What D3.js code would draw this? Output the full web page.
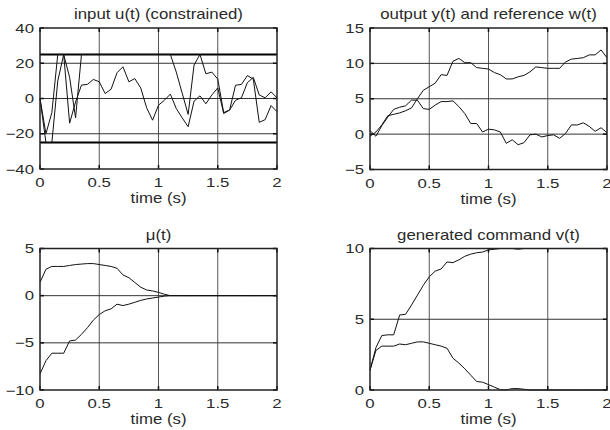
<!DOCTYPE html>
<html>
<head>
<meta charset="utf-8">
<script src="https://cdn.jsdelivr.net/npm/d3@7"></script>
<style>
  body { margin: 0; background: #fff; }
  svg { display: block; }
  text { font-family: "Liberation Sans", Arial, Helvetica, sans-serif; fill: #2a2a2a; }
</style>
</head>
<body>
<div id="chart"></div>
<script>
// sample times (s)
const time = [0, 0.05, 0.1, 0.15, 0.2, 0.25, 0.3, 0.35, 0.4, 0.45, 0.5, 0.55, 0.6, 0.65, 0.7, 0.75, 0.8, 0.85, 0.9, 0.95,
  1, 1.05, 1.1, 1.15, 1.2, 1.25, 1.3, 1.35, 1.4, 1.45, 1.5, 1.55, 1.6, 1.65, 1.7, 1.75, 1.8, 1.85, 1.9, 1.95, 2];

// input u(t), two runs
const uSat = [0, -20, -8, 25, 25, 12, -11, 25, 25, 25, 25, 25, 25, 25, 25, 25, 25, 25, 25, 25,
  25, 25, 25, 15, 3, -9, 19, 25, 14, 15, 11, -8, -6.5, 7.5, 8, 13, 11, -13.5, -12, -4, -7.5];
const uFree = [0, -25, -25, 10, 25, -14, -2, 7.6, 8, 10.8, 9.5, 2.8, 5.3, 14.6, 18, 9.5, 11.3, 6, -5.3, -12.3,
  -3.8, -1, 2.5, -5.7, -11, -16, -1.5, 1.5, -3, 2, 6, -8.5, -6.6, -1, 0.4, 9, 12, 2, 0.4, 3.8, 0.4];
const uLimits = [25, -25];

// output y(t) and reference w(t)
const yOut = [-0.3, 0.3, 1.3, 2.6, 2.8, 3.0, 3.3, 3.7, 5.0, 6.2, 6.7, 7.2, 8.4, 8.3, 10.3, 10.7, 10.1, 10.1, 9.4, 9.3,
  9.2, 8.7, 8.4, 7.8, 7.8, 8.1, 8.3, 8.8, 9.5, 9.4, 9.3, 9.3, 9.3, 10.2, 10.6, 10.7, 10.8, 11.2, 11.2, 11.9, 10.8];
const wRef = [0.5, -0.3, 1.2, 2.4, 3.5, 3.8, 4.0, 4.8, 4.8, 3.6, 3.5, 4.1, 4.6, 4.6, 4.7, 3.9, 2.9, 1.5, 1.5, 0.3,
  0.7, 0.6, 0.3, -1.3, -0.8, -1.5, -1.2, -0.1, 0, -0.4, -0.2, -0.1, -0.6, 0.1, 1.3, 1.3, 1.6, 1.1, 0.4, 0.9, 0.2];

// mu(t)
const muUp = [1.4, 2.8, 3.1, 3.1, 3.1, 3.2, 3.3, 3.35, 3.4, 3.4, 3.3, 3.2, 3.1, 2.9, 2.2, 1.9, 1.4, 0.9, 0.6, 0.5,
  0.35, 0.15, 0, 0, 0, 0, 0, 0, 0, 0, 0, 0, 0, 0, 0, 0, 0, 0, 0, 0, 0];
const muDown = [-8.3, -6.9, -6.1, -6.1, -6.1, -4.8, -4.7, -4.1, -3.4, -2.6, -2.0, -1.6, -1.4, -0.9, -1.05, -0.9, -0.7, -0.5, -0.35, -0.25,
  -0.15, -0.05, 0, 0, 0, 0, 0, 0, 0, 0, 0, 0, 0, 0, 0, 0, 0, 0, 0, 0, 0];

// generated command v(t)
const vUp = [1.4, 3.0, 3.85, 3.9, 3.9, 5.3, 5.35, 6.0, 6.7, 7.4, 8.0, 8.4, 8.55, 9.05, 9.0, 9.2, 9.45, 9.6, 9.7, 9.75,
  9.9, 9.95, 10, 10, 10, 9.95, 10, 10, 10, 10, 10, 10, 10, 10, 10, 10, 10, 10, 10, 10, 10];
const vDown = [1.4, 2.8, 3.1, 3.1, 3.1, 3.25, 3.2, 3.3, 3.4, 3.4, 3.3, 3.2, 3.1, 2.95, 2.25, 1.9, 1.5, 1.05, 0.6, 0.55,
  0.38, 0.2, 0.02, 0, 0.1, 0.1, 0.05, 0, 0, 0, 0, 0, 0, 0, 0, 0, 0, 0, 0, 0, 0];

const xTicks = [0, 0.5, 1, 1.5, 2];
const xTickLabels = ["0", "0.5", "1", "1.5", "2"];

const width = 610, height = 430;

const svg = d3.select("#chart").append("svg")
    .attr("width", width)
    .attr("height", height);

const fmt = d => d < 0 ? "\u2212" + Math.abs(d) : String(d);

function stretchText(g, x, y, str, size, sx, anchor) {
  g.append("text")
    .attr("transform", `translate(${x},${y}) scale(${sx},1)`)
    .attr("text-anchor", anchor)
    .attr("font-size", size)
    .text(str);
}

function drawPanel(box, yDomain, yTicks, title, series, hLines) {
  const x = d3.scaleLinear().domain([0, 2]).range([box.left, box.right]);
  const y = d3.scaleLinear().domain(yDomain).range([box.bottom, box.top]);
  const g = svg.append("g");

  // grid
  g.selectAll(".vgrid")
    .data(xTicks.slice(1, -1))
    .enter().append("line")
      .attr("x1", d => x(d)).attr("x2", d => x(d))
      .attr("y1", box.top).attr("y2", box.bottom)
      .attr("stroke", "#555").attr("stroke-width", 1);

  g.selectAll(".hgrid")
    .data(yTicks.filter(d => d > yDomain[0] && d < yDomain[1]))
    .enter().append("line")
      .attr("x1", box.left).attr("x2", box.right)
      .attr("y1", d => y(d)).attr("y2", d => y(d))
      .attr("stroke", "#333").attr("stroke-width", 1);

  // inward tick marks on all sides
  const tl = 4;
  xTicks.forEach(d => {
    g.append("line").attr("x1", x(d)).attr("x2", x(d)).attr("y1", box.bottom).attr("y2", box.bottom - tl)
      .attr("stroke", "#111").attr("stroke-width", 1.5);
    g.append("line").attr("x1", x(d)).attr("x2", x(d)).attr("y1", box.top).attr("y2", box.top + tl)
      .attr("stroke", "#111").attr("stroke-width", 1.5);
  });
  yTicks.forEach(d => {
    g.append("line").attr("x1", box.left).attr("x2", box.left + tl).attr("y1", y(d)).attr("y2", y(d))
      .attr("stroke", "#111").attr("stroke-width", 1.5);
    g.append("line").attr("x1", box.right).attr("x2", box.right - tl).attr("y1", y(d)).attr("y2", y(d))
      .attr("stroke", "#111").attr("stroke-width", 1.5);
  });

  // constraint lines
  (hLines || []).forEach(v => {
    g.append("line")
      .attr("x1", box.left).attr("x2", box.right)
      .attr("y1", y(v)).attr("y2", y(v))
      .attr("stroke", "#000").attr("stroke-width", 2);
  });

  // curves
  const line = d3.line()
      .x((d, i) => x(time[i]))
      .y(d => y(d));

  series.forEach(s => {
    g.append("path")
      .datum(s)
      .attr("d", line)
      .attr("fill", "none")
      .attr("stroke", "#111")
      .attr("stroke-width", 1)
      .attr("stroke-linejoin", "round");
  });

  // frame
  g.append("rect")
    .attr("x", box.left).attr("y", box.top)
    .attr("width", box.right - box.left).attr("height", box.bottom - box.top)
    .attr("fill", "none").attr("stroke", "#222").attr("stroke-width", 1.5);

  // tick labels
  xTicks.forEach((d, i) => stretchText(g, x(d), box.bottom + 18, xTickLabels[i], 12, 1.4, "middle"));
  yTicks.forEach(d => stretchText(g, box.left - 6, y(d) + 4.5, fmt(d), 12, 1.4, "end"));

  const cx = (box.left + box.right) / 2;
  stretchText(g, cx, box.top - 9, title, 14, 1.2, "middle");
  stretchText(g, cx, box.bottom + 34, "time (s)", 14, 1.2, "middle");
}

drawPanel({left: 40, right: 277, top: 28, bottom: 169}, [-40, 40], [-40, -20, 0, 20, 40],
  "input u(t) (constrained)", [uSat, uFree], uLimits);
drawPanel({left: 370, right: 607, top: 28, bottom: 169.5}, [-5, 15], [-5, 0, 5, 10, 15],
  "output y(t) and reference w(t)", [yOut, wRef]);
drawPanel({left: 40, right: 277, top: 248.5, bottom: 390}, [-10, 5], [-10, -5, 0, 5],
  "\u03bc(t)", [muUp, muDown]);
drawPanel({left: 370, right: 607, top: 248.5, bottom: 390}, [0, 10], [0, 5, 10],
  "generated command v(t)", [vUp, vDown]);
</script>
</body>
</html>
